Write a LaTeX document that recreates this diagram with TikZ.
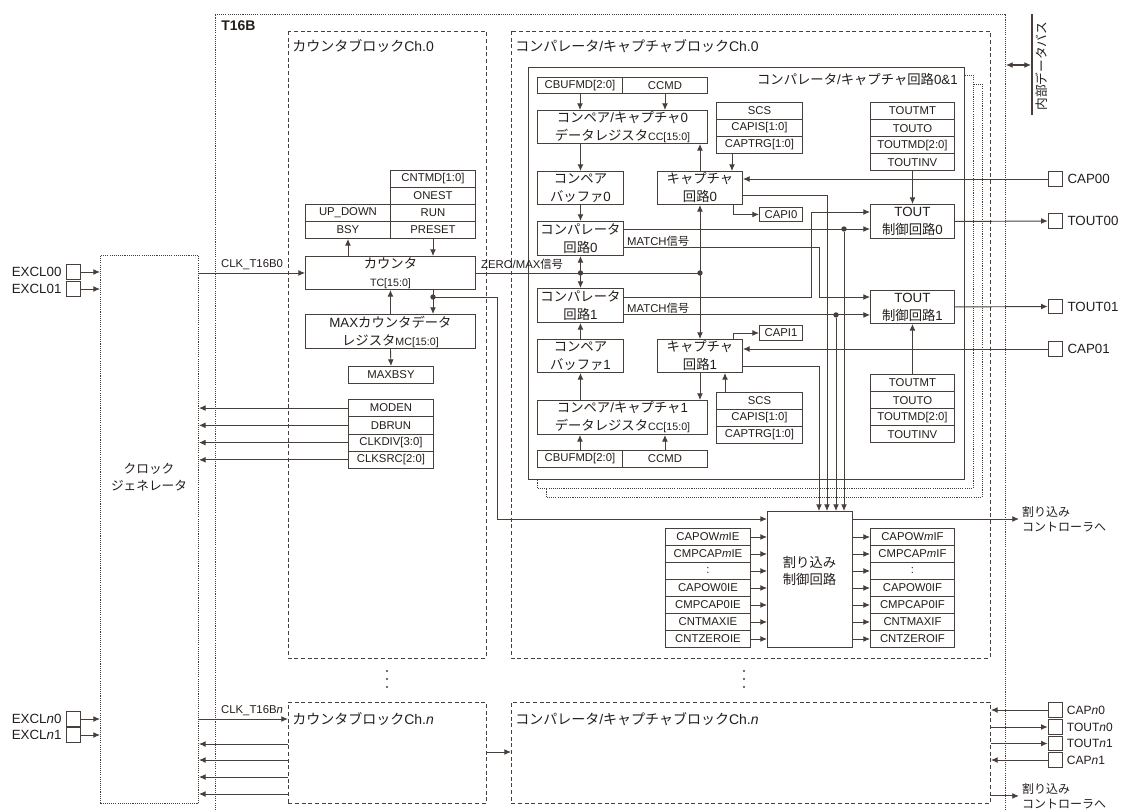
\documentclass[tikz,border=0pt]{standalone}
\usepackage{fontspec}
\setmainfont{Liberation Sans}
\newfontfamily\jpfont{Noto Sans CJK JP}
\usetikzlibrary{arrows.meta, calc}

\newcommand{\jp}[1]{{\jpfont #1}}
\newcommand{\regsz}{\fontsize{8}{10}\selectfont}

\definecolor{linecol}{RGB}{72,62,58}
\definecolor{txtcol}{RGB}{35,30,28}

\tikzset{
  wh/.style 2 args={minimum width=#1*0.75pt, minimum height=#2*0.75pt, anchor=north west},
  box/.style={draw=linecol, fill=white, line width=0.7pt, inner sep=0pt, text=txtcol},
  reg/.style={box, font=\fontsize{8.5}{10}\selectfont},
  unitbox/.style={box, align=center, font=\fontsize{10}{13.5}\selectfont},
  padbox/.style={draw=linecol, fill=white, line width=0.7pt, minimum size=11pt, inner sep=0pt},
  sig/.style={draw=linecol, line width=0.7pt, -{Latex[length=5pt,width=4.4pt]}},
  wire/.style={draw=linecol, line width=0.7pt},
  blk/.style={draw=linecol, line width=0.7pt, dash pattern=on 3pt off 2pt},
  dotbox/.style={draw=linecol, line width=0.7pt, dash pattern=on 0.8pt off 0.8pt},
  jdot/.style={circle, fill=linecol, inner sep=0pt, minimum size=4pt},
  lbl/.style={text=txtcol, inner sep=0pt, font=\fontsize{8.5}{10}\selectfont},
}

\begin{document}
\begin{tikzpicture}[x=0.75pt, y=-0.75pt]
\useasboundingbox (0,0) rectangle (1122,810);

% T16B frame and internal bus
\draw[dotbox] (215,810) -- (215,14) -- (1005,14) -- (1005,810);
\node[lbl, anchor=west, font=\bfseries\fontsize{10.5}{12}\selectfont] (t16b) at (221,26) {T16B};
\draw[linecol, line width=2.2pt] (1032,14) -- (1032,115);
\coordinate (busin) at (1031,65);
\coordinate (frameR) at (1006,65);
\draw[linecol, line width=0.8pt, {Latex[length=5pt,width=4.4pt]}-{Latex[length=5pt,width=4.4pt]}] (frameR) -- (busin);
\node[lbl, rotate=90, font=\fontsize{9.5}{10}\selectfont] (buslbl) at (1042,66) {\jp{内部データバス}};

% clock generator
\node[dotbox, inner sep=0pt, wh={98}{548}] (clkgen) at (100,255) {};
\node[lbl, align=center, font=\fontsize{9.5}{13}\selectfont] (clklbl) at (149,477) {\jp{クロック}\\\jp{ジェネレータ}};
\foreach \nm/\y/\txt in {excla/272/EXCL00, exclb/289/EXCL01, exclc/719/{EXCL\textit{n}0}, excld/735/{EXCL\textit{n}1}} {
  \node[padbox] (\nm) at (73.5,\y) {};
  \node[lbl, anchor=east, font=\fontsize{10}{12}\selectfont] (l\nm) at ([xshift=-3pt]\nm.west) {\txt};
  \draw[sig] (\nm.east) -- (\nm.east -| clkgen.west);
}

% counter block Ch.0
\draw[blk] (288,31) rectangle (486,658);
\node[lbl, anchor=west, font=\fontsize{10.5}{12}\selectfont] (cntttl) at (292,46) {\jp{カウンタブロック}Ch.0};
\foreach \nm/\txt [count=\i from 0] in {cntmd/{CNTMD[1:0]}, onest/ONEST, run/RUN, preset/PRESET}
  \node[reg, wh={85}{17}] (\nm) at (390,{170+17*\i}) {\txt};
\foreach \nm/\txt [count=\i from 0] in {updown/UP\_DOWN, bsy/BSY}
  \node[reg, wh={85}{17}] (\nm) at (305,{204+17*\i}) {\txt};
\node[unitbox, wh={170}{33}] (cnt) at (305,256) {\jp{カウンタ}\\{\regsz TC[15:0]}};
\node[unitbox, wh={170}{34}] (maxreg) at (305,314) {MAX\jp{カウンタデータ}\\\jp{レジスタ}{\regsz MC[15:0]}};
\node[reg, wh={85}{17}] (maxbsy) at (348,366) {MAXBSY};
\foreach \nm/\txt [count=\i from 0] in {moden/MODEN, dbrun/DBRUN, clkdiv/{CLKDIV[3:0]}, clksrc/{CLKSRC[2:0]}}
  \node[reg, wh={85}{17.25}] (\nm) at (348,{399+17.25*\i}) {\txt};

\draw[sig] (cnt.west -| clkgen.east) -- (cnt.west);
\node[lbl, anchor=south west] (clk0) at ($(cnt.west -| clkgen.east)+(22,-3)$) {CLK\_T16B0};
\draw[sig] (bsy.south |- cnt.north) -- (bsy.south);
\draw[sig] (preset.south) -- (preset.south |- cnt.north);
\draw[sig] (maxreg.north) -- (cnt.south);
\coordinate (tcbr) at (433,297);
\draw[sig] (tcbr |- cnt.south) -- (tcbr |- maxreg.north);
\draw[sig] (maxreg.south) -- (maxbsy.north);
\foreach \nm in {moden, dbrun, clkdiv, clksrc}
  \draw[sig] (\nm.west) -- (\nm.west -| clkgen.east);

% comparator/capture block Ch.0
\draw[blk] (511,31) rectangle (990,658);
\node[lbl, anchor=west, font=\fontsize{10.5}{12}\selectfont] (cmpttl) at (515,46) {\jp{コンパレータ}/\jp{キャプチャブロック}Ch.0};
\draw[dotbox, fill=white] (546,84) rectangle (982,497);
\draw[dotbox, fill=white] (537,75) rectangle (973,488);
\node[box, wh={436}{412}] (circ) at (528,67) {};
\node[lbl, anchor=east, font=\fontsize{10}{12}\selectfont] (circttl) at (958,79) {\jp{コンパレータ}/\jp{キャプチャ回路}0\&1};

% channel 0 units
\node[reg, wh={85}{16}] (cbuf0) at (537,77) {CBUFMD[2:0]};
\node[reg, wh={85}{16}] (ccmd0) at (622,77) {CCMD};
\node[unitbox, wh={170}{33}] (ccr0) at (537,110) {\jp{コンペア}/\jp{キャプチャ}0\\\jp{データレジスタ}{\regsz CC[15:0]}};
\node[unitbox, wh={86}{33}] (buf0) at (537,171) {\jp{コンペア}\\\jp{バッファ}0};
\node[unitbox, wh={86}{34}] (cmp0) at (537,221) {\jp{コンパレータ}\\\jp{回路}0};
\node[unitbox, wh={85}{33}] (cap0) at (657,171) {\jp{キャプチャ}\\\jp{回路}0};
\node[reg, wh={43}{14}] (capi0) at (759,207) {CAPI0};
\node[unitbox, wh={84}{34}] (tout0) at (870,204) {TOUT\\\jp{制御回路}0};

% channel 1 units
\node[unitbox, wh={86}{34}] (cmp1) at (537,288) {\jp{コンパレータ}\\\jp{回路}1};
\node[unitbox, wh={86}{33}] (buf1) at (537,339) {\jp{コンペア}\\\jp{バッファ}1};
\node[unitbox, wh={170}{34}] (ccr1) at (537,400) {\jp{コンペア}/\jp{キャプチャ}1\\\jp{データレジスタ}{\regsz CC[15:0]}};
\node[reg, wh={85}{17}] (cbuf1) at (537,450) {CBUFMD[2:0]};
\node[reg, wh={85}{17}] (ccmd1) at (622,450) {CCMD};
\node[unitbox, wh={85}{33}] (cap1) at (657,339) {\jp{キャプチャ}\\\jp{回路}1};
\node[reg, wh={43}{15}] (capi1) at (759,325) {CAPI1};
\node[unitbox, wh={84}{33}] (tout1) at (870,290) {TOUT\\\jp{制御回路}1};

% register stacks
\foreach \k/\y in {0/102, 1/392}
  \foreach \nm/\txt [count=\i from 0] in {scs/SCS, capis/{CAPIS[1:0]}, captrg/{CAPTRG[1:0]}}
    \node[reg, wh={86}{17}] (\nm\k) at (716,{\y+17*\i}) {\txt};
\foreach \k/\y in {0/102, 1/374}
  \foreach \nm/\txt [count=\i from 0] in {toutmt/TOUTMT, touto/TOUTO, toutmd/{TOUTMD[2:0]}, toutinv/TOUTINV}
    \node[reg, wh={84}{17.1}] (\nm\k) at (870,{\y+17.1*\i}) {\txt};

% interrupt control
\node[box, wh={85}{136}] (intc) at (767,511) {};
\node[lbl, align=center, font=\fontsize{10}{13}\selectfont] (intclbl) at (809.5,571) {\jp{割り込み}\\\jp{制御回路}};
\foreach \txt [count=\i from 0] in {CAPOW\textit{m}IE, CMPCAP\textit{m}IE, :, CAPOW0IE, CMPCAP0IE, CNTMAXIE, CNTZEROIE}
  \node[reg, wh={85}{17}] (ie\i) at (665,{528+17*\i}) {\txt};
\foreach \txt [count=\i from 0] in {CAPOW\textit{m}IF, CMPCAP\textit{m}IF, :, CAPOW0IF, CMPCAP0IF, CNTMAXIF, CNTZEROIF}
  \node[reg, wh={84}{17}] (if\i) at (870,{528+17*\i}) {\txt};
\foreach \i in {0,...,6} {
  \draw[sig] (ie\i.east) -- (ie\i.east -| intc.west);
  \draw[sig] (intc.east |- if\i.west) -- (if\i.west);
}
\coordinate (in1) at ($(intc.north west)+(52,0)$);
\coordinate (in2) at ($(intc.north west)+(60,0)$);
\coordinate (in3) at ($(intc.north west)+(69,0)$);
\coordinate (in4) at ($(intc.north west)+(77,0)$);

% ZERO/MAX signal
\coordinate (zm0) at (cmp0.south |- cnt.east);
\coordinate (zm1) at (cap0.south |- cnt.east);
\draw[wire] (cnt.east) -- (zm1);
\node[jdot] (zmd0) at (zm0) {};
\node[jdot] (zmd1) at (zm1) {};
\draw[sig] (zm0) -- (cmp0.south);
\draw[sig] (zm0) -- (cmp1.north);
\draw[sig] (zm1) -- (cap0.south);
\draw[sig] (zm1) -- (cap1.north);
\node[lbl, anchor=south west] (zmlbl) at ($(cnt.east)+(5,-3)$) {ZERO/MAX\jp{信号}};

% data paths
\draw[sig] (cbuf0.south) -- (cbuf0.south |- ccr0.north);
\draw[sig] (ccmd0.south) -- (ccmd0.south |- ccr0.north);
\draw[sig] (buf0.north |- ccr0.south) -- (buf0.north);
\draw[sig] (buf0.south) -- (cmp0.north);
\draw[sig] (cap0.north) -- (cap0.north |- ccr0.south);
\draw[sig] (cbuf1.north) -- (cbuf1.north |- ccr1.south);
\draw[sig] (ccmd1.north) -- (ccmd1.north |- ccr1.south);
\draw[sig] (buf1.south |- ccr1.north) -- (buf1.south);
\draw[sig] (buf1.north) -- (cmp1.south);
\draw[sig] (cap1.south) -- (cap1.south |- ccr1.north);
\coordinate (s0) at ($(captrg0.south west)+(16,0)$);
\draw[sig] (s0) -- (s0 |- cap0.north);
\coordinate (s1) at ($(scs1.north west)+(9,0)$);
\draw[sig] (s1) -- (s1 |- cap1.south);
\draw[sig] ($(cap0.south west)+(76,0)$) |- (capi0.west);
\draw[sig] ($(cap1.north west)+(76,0)$) |- (capi1.west);
\draw[sig] (toutinv0.south) -- (tout0.north);
\draw[sig] (toutmt1.north) -- (tout1.south);

% external pins of Ch.0
\foreach \nm/\y/\txt in {cap00/179/CAP00, tout00/221/TOUT00, tout01/306.5/TOUT01, cap01/349/CAP01} {
  \node[padbox] (\nm) at (1055.5,\y) {};
  \node[lbl, anchor=west, font=\fontsize{10}{12}\selectfont] (l\nm) at ([xshift=3pt]\nm.east) {\txt};
}
\draw[sig] (cap00.west) -- (cap00.west -| cap0.east);
\draw[sig] (cap01.west) -- (cap01.west -| cap1.east);
\draw[sig] (tout0.east) -- (tout00.west);
\draw[sig] (tout1.east) -- (tout01.west);

% match signals
\coordinate (c0a) at ($(cmp0.north east)+(0,8)$);
\coordinate (c0b) at ($(cmp0.south east)+(0,-8)$);
\coordinate (c1a) at ($(cmp1.north east)+(0,9)$);
\coordinate (c1b) at ($(cmp1.south east)+(0,-8)$);
\coordinate (t0a) at ($(tout0.north west)+(0,8)$);
\coordinate (t1a) at ($(tout1.north west)+(0,7)$);
\coordinate (jogx) at (811,0);
\draw[sig] (c0a) -- (c0a -| tout0.west);
\draw[sig] (c0b) -- (c0b -| in1) -- (in1 |- t1a) -- (t1a);
\draw[sig] (c1a) -- (c1a -| jogx) -- (jogx |- t0a) -- (t0a);
\draw[sig] (c1b) -- (c1b -| tout1.west);
\node[lbl, anchor=south west] (mt0) at ($(c0b)+(3,-1)$) {MATCH\jp{信号}};
\node[lbl, anchor=south west] (mt1) at ($(c1b)+(3,-1)$) {MATCH\jp{信号}};
\node[jdot] (m0d) at (c0a -| in4) {};
\draw[sig] (m0d) -- (in4);
\node[jdot] (m1d) at (c1b -| in3) {};
\draw[sig] (m1d) -- (in3);
\draw[sig] ($(cap0.north east)+(0,24)$) -| (in2);
\draw[sig] ($(cap1.south east)+(0,-6)$) -| (in1);

% counter value to interrupt, interrupt out
\coordinate (tcin) at ($(intc.north west)+(0,8)$);
\draw[sig] (tcbr) -| ($(tcin)+(-270,0)$) -- (tcin);
\node[jdot] (tcd) at (tcbr) {};
\coordinate (irqo) at ($(intc.north east)+(0,8)$);
\draw[sig] (irqo) -- ++(166,0) node[lbl, anchor=west, align=left, xshift=2pt, font=\fontsize{9}{11}\selectfont] (irq0) {\jp{割り込み}\\\jp{コントローラへ}};

% channel n
\foreach \x in {387,744}
  \foreach \y in {671,679,687}
    \fill[linecol] (\x,\y) circle (0.9pt);
\node[blk, inner sep=0pt, wh={198}{101}] (cntn) at (288,702) {};
\node[lbl, anchor=west, font=\fontsize{10.5}{12}\selectfont] (cntnttl) at (292,719) {\jp{カウンタブロック}Ch.\textit{n}};
\node[blk, inner sep=0pt, wh={479}{101}] (cmpn) at (511,702) {};
\node[lbl, anchor=west, font=\fontsize{10.5}{12}\selectfont] (cmpnttl) at (515,719) {\jp{コンパレータ}/\jp{キャプチャブロック}Ch.\textit{n}};
\coordinate (cknin) at ($(cntn.north west)+(0,17)$);
\draw[sig] (cknin -| clkgen.east) -- (cknin);
\node[lbl, anchor=south west] (clkn) at ($(cknin -| clkgen.east)+(22,-3)$) {CLK\_T16B\textit{n}};
\foreach \dy in {42,58,75,92} {
  \coordinate (q) at ($(cntn.north west)+(0,\dy)$);
  \draw[sig] (q) -- (q -| clkgen.east);
}
\coordinate (cq) at ($(cntn.north east)+(0,50)$);
\draw[sig] (cq) -- (cq -| cmpn.west);
\foreach \nm/\y/\txt in {capna/710/{CAP\textit{n}0}, toutna/727/{TOUT\textit{n}0}, toutnb/743.5/{TOUT\textit{n}1}, capnb/760/{CAP\textit{n}1}} {
  \node[padbox] (\nm) at (1055.5,\y) {};
  \node[lbl, anchor=west, font=\fontsize{9}{10}\selectfont] (l\nm) at ([xshift=2.5pt]\nm.east) {\txt};
}
\draw[sig] (capna.west) -- (capna.west -| cmpn.east);
\draw[sig] (capnb.west) -- (capnb.west -| cmpn.east);
\draw[sig] (toutna.west -| cmpn.east) -- (toutna.west);
\draw[sig] (toutnb.west -| cmpn.east) -- (toutnb.west);
\coordinate (irqn) at ($(cmpn.south east)+(0,-8)$);
\draw[sig] (irqn) -- ++(28,0) node[lbl, anchor=west, align=left, xshift=2pt, font=\fontsize{9}{11}\selectfont] (irq1) {\jp{割り込み}\\\jp{コントローラへ}};

\end{tikzpicture}
\end{document}
